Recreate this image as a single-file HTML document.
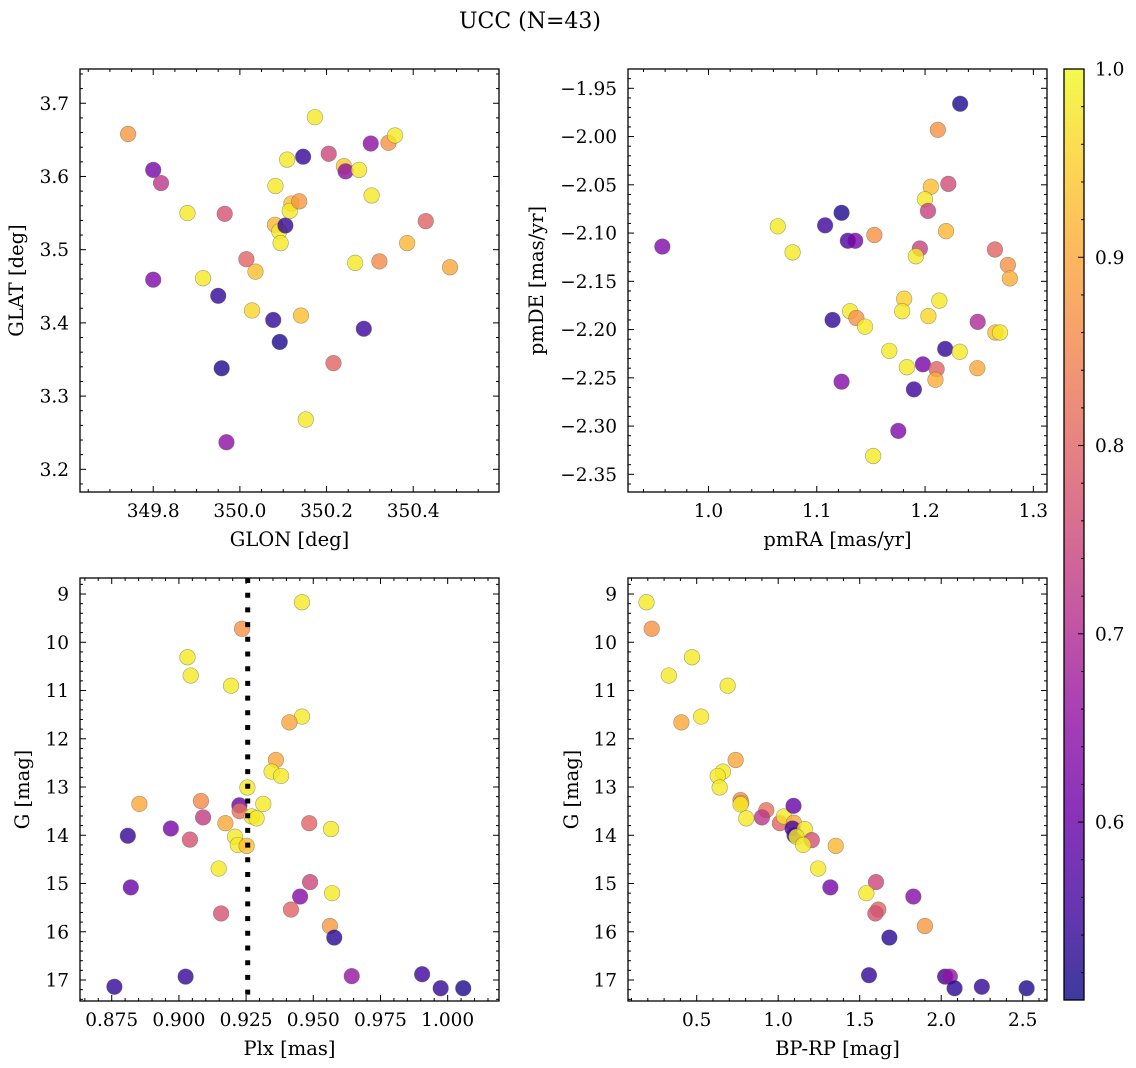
<!DOCTYPE html>
<html><head><meta charset="utf-8"><style>
html,body{margin:0;padding:0;background:#fff;}
svg{display:block;font-family:"DejaVu Serif","Liberation Serif",serif;}
</style></head><body>
<svg id="fig" width="1136" height="1068" viewBox="0 0 1136 1068" xmlns="http://www.w3.org/2000/svg">
<defs>
<linearGradient id="plasmaGrad" x1="0" y1="1" x2="0" y2="0">
<stop offset="0" stop-color="#0d0887"/><stop offset="0.1" stop-color="#41049d"/><stop offset="0.2" stop-color="#6a00a8"/><stop offset="0.3" stop-color="#8f0da4"/><stop offset="0.4" stop-color="#b12a90"/><stop offset="0.5" stop-color="#cc4778"/><stop offset="0.6" stop-color="#e16462"/><stop offset="0.7" stop-color="#f2844b"/><stop offset="0.8" stop-color="#fca636"/><stop offset="0.9" stop-color="#fcce25"/><stop offset="1" stop-color="#f0f921"/>
</linearGradient>
</defs>
<text x="530" y="28" text-anchor="middle" font-size="22">UCC (N=43)</text>
</svg>
<script>
// ---- Panel A: GLON vs GLAT ----
const glon = [349.742,349.800,349.818,349.879,349.965,349.800,349.915,349.950,350.015,350.036,349.958,349.969,350.028,350.077,350.092,350.082,350.081,350.091,350.094,350.105,350.109,350.119,350.115,350.137,350.146,350.173,350.141,350.152,350.205,350.240,350.244,350.275,350.304,350.266,350.216,350.286,350.302,350.343,350.358,350.322,350.386,350.429,350.485];
const glat = [3.658,3.609,3.591,3.550,3.549,3.459,3.461,3.437,3.487,3.470,3.338,3.237,3.417,3.404,3.374,3.587,3.534,3.525,3.509,3.533,3.623,3.563,3.553,3.566,3.627,3.681,3.410,3.268,3.631,3.614,3.607,3.609,3.574,3.482,3.345,3.392,3.645,3.646,3.656,3.484,3.509,3.539,3.476];
const probA = [0.88,0.62,0.72,0.98,0.77,0.63,0.98,0.54,0.80,0.93,0.52,0.65,0.96,0.54,0.52,0.98,0.92,0.98,0.98,0.54,0.98,0.93,0.98,0.88,0.54,0.98,0.93,0.98,0.75,0.94,0.65,0.98,0.98,0.98,0.80,0.55,0.65,0.87,0.98,0.86,0.92,0.80,0.90];
// ---- Panel B: pmRA vs pmDE ----
const pmra = [0.9574,1.2324,1.2118,1.2215,1.2053,1.1999,1.2027,1.0640,1.1077,1.1229,1.1287,1.1355,1.1532,1.2194,1.1952,1.1915,1.0777,1.2645,1.2765,1.2783,1.1807,1.2132,1.1146,1.1308,1.1366,1.1446,1.1789,1.2031,1.2486,1.2649,1.2692,1.1670,1.2186,1.2320,1.1229,1.1832,1.1980,1.2107,1.2096,1.2483,1.1897,1.1753,1.1521];
const pmde = [-2.114,-1.966,-1.993,-2.049,-2.052,-2.065,-2.077,-2.093,-2.092,-2.079,-2.108,-2.108,-2.102,-2.098,-2.116,-2.124,-2.120,-2.117,-2.133,-2.147,-2.168,-2.170,-2.190,-2.181,-2.188,-2.197,-2.181,-2.186,-2.192,-2.203,-2.203,-2.222,-2.220,-2.223,-2.254,-2.239,-2.236,-2.241,-2.252,-2.240,-2.262,-2.305,-2.331];
const probB = [0.63,0.52,0.87,0.76,0.93,0.98,0.74,0.98,0.55,0.52,0.57,0.62,0.87,0.92,0.74,0.98,0.98,0.80,0.87,0.91,0.95,0.98,0.54,0.98,0.87,0.98,0.98,0.96,0.70,0.93,0.98,0.98,0.54,0.98,0.64,0.98,0.62,0.80,0.91,0.90,0.55,0.63,0.98];
// ---- Panel C: Plx vs G ----
const plx = [0.9458,0.9235,0.9032,0.9044,0.9194,0.9458,0.9411,0.9361,0.9345,0.9380,0.9255,0.8853,0.9082,0.9314,0.9225,0.9226,0.9271,0.9289,0.9090,0.9173,0.8970,0.8810,0.9041,0.9209,0.9219,0.9252,0.9485,0.9566,0.9148,0.9488,0.9451,0.8821,0.9570,0.9417,0.9157,0.9562,0.9578,0.9025,0.9643,0.9905,0.8760,0.9974,1.0058];
const gmagC = [9.17,9.72,10.31,10.69,10.90,11.54,11.66,12.44,12.68,12.77,13.01,13.35,13.29,13.35,13.38,13.50,13.61,13.65,13.63,13.75,13.86,14.01,14.09,14.03,14.20,14.22,13.75,13.87,14.69,14.97,15.27,15.08,15.20,15.54,15.62,15.88,16.12,16.93,16.92,16.88,17.14,17.17,17.17];
const probC = [0.98,0.87,0.98,0.98,0.98,0.98,0.90,0.90,0.98,0.98,0.98,0.90,0.86,0.98,0.60,0.82,0.98,0.98,0.73,0.90,0.62,0.54,0.77,0.98,0.98,0.93,0.80,0.98,0.98,0.75,0.64,0.60,0.98,0.80,0.77,0.88,0.53,0.54,0.66,0.55,0.54,0.54,0.52];
const plxLine = [0.9256];
// ---- Panel D: BP-RP vs G ----
const bprp = [0.192,0.224,0.471,0.329,0.690,0.527,0.406,0.739,0.661,0.629,0.641,0.769,0.773,0.769,0.927,0.900,0.804,1.010,1.035,1.094,1.096,1.100,1.088,1.163,1.112,1.206,1.153,1.353,1.245,1.320,1.600,1.541,1.829,1.614,1.596,1.900,1.682,1.557,2.024,2.053,2.082,2.249,2.524];
const gmagD = [9.17,9.72,10.31,10.69,10.90,11.54,11.66,12.44,12.68,12.77,13.01,13.27,13.33,13.36,13.48,13.63,13.65,13.75,13.61,13.39,13.74,14.00,13.86,13.87,14.03,14.10,14.20,14.22,14.69,15.08,14.97,15.20,15.27,15.54,15.62,15.88,16.12,16.90,16.93,16.93,17.17,17.14,17.17];
const probD = [0.98,0.87,0.98,0.98,0.98,0.98,0.90,0.90,0.98,0.98,0.98,0.86,0.90,0.98,0.82,0.72,0.98,0.80,0.98,0.60,0.90,0.54,0.56,0.98,0.98,0.77,0.98,0.92,0.98,0.62,0.75,0.98,0.64,0.80,0.77,0.88,0.53,0.54,0.55,0.66,0.53,0.54,0.52];
// ---- Ticks ----
const ticksAx = [349.8,350.0,350.2,350.4];
const ticksAxLbl = ["349.8","350.0","350.2","350.4"];
const ticksAy = [3.2,3.3,3.4,3.5,3.6,3.7];
const ticksAyLbl = ["3.2","3.3","3.4","3.5","3.6","3.7"];
const ticksBx = [1.0,1.1,1.2,1.3];
const ticksBxLbl = ["1.0","1.1","1.2","1.3"];
const ticksBy = [-1.95,-2.00,-2.05,-2.10,-2.15,-2.20,-2.25,-2.30,-2.35];
const ticksByLbl = ["\u22121.95","\u22122.00","\u22122.05","\u22122.10","\u22122.15","\u22122.20","\u22122.25","\u22122.30","\u22122.35"];
const ticksCx = [0.875,0.900,0.925,0.950,0.975,1.000];
const ticksCxLbl = ["0.875","0.900","0.925","0.950","0.975","1.000"];
const ticksG = [9,10,11,12,13,14,15,16,17];
const ticksGLbl = ["9","10","11","12","13","14","15","16","17"];
const ticksDx = [0.5,1.0,1.5,2.0,2.5];
const ticksDxLbl = ["0.5","1.0","1.5","2.0","2.5"];
const cbTicks = [0.6,0.7,0.8,0.9,1.0];
const cbTickLbl = ["0.6","0.7","0.8","0.9","1.0"];
const cbRange = [0.5055,1.0];

const NS = "http://www.w3.org/2000/svg";
const svg = document.getElementById('fig');
function mk(tag, attrs, parent){
  const e = document.createElementNS(NS, tag);
  for (const k in attrs) e.setAttribute(k, attrs[k]);
  (parent||svg).appendChild(e);
  return e;
}
const stops = [[13,8,135],[65,4,157],[106,0,168],[143,13,164],[177,42,144],[204,71,120],[225,100,98],[242,132,75],[252,166,54],[252,206,37],[240,249,33]];
function plasma(t){
  t = Math.max(0, Math.min(1, t));
  const f = t*10, i = Math.min(9, Math.floor(f)), r = f - i;
  const a = stops[i], b = stops[i+1];
  return 'rgb(' + [0,1,2].map(k => Math.round(a[k] + (b[k]-a[k])*r)).join(',') + ')';
}
function cnorm(p){ return (p - cbRange[0])/(cbRange[1]-cbRange[0]); }

function makeAxes(c){
  const g = mk('g', {});
  
  
  const sx = v => c.x0 + (v - c.xl)/(c.xr - c.xl)*(c.x1 - c.x0);
  const sy = v => c.y0 + (v - c.yt)/(c.yb - c.yt)*(c.y1 - c.y0);
  c.sx = sx; c.sy = sy; c.g = g;
  return c;
}
function decorate(c){
  const g = c.g, sx = c.sx, sy = c.sy;
  const tg = mk('g', {stroke:'#000','stroke-width':1}, g);
  
  
  function line(x1,y1,x2,y2){ mk('line',{x1:x1,y1:y1,x2:x2,y2:y2},tg); }
  const xlo = Math.min(c.xl,c.xr), xhi = Math.max(c.xl,c.xr);
  const ylo = Math.min(c.yt,c.yb), yhi = Math.max(c.yt,c.yb);
  for (let k = Math.ceil(xlo/c.xm - 1e-6); k*c.xm <= xhi + 1e-9; k++){
    const v = k*c.xm, x = sx(v);
    const major = c.xt.some(t => Math.abs(t - v) < c.xm*0.01);
    const L = major ? 6 : 3;
    line(x, c.y1, x, c.y1 - L); line(x, c.y0, x, c.y0 + L);
  }
  for (let k = Math.ceil(ylo/c.ym - 1e-6); k*c.ym <= yhi + 1e-9; k++){
    const v = k*c.ym, y = sy(v);
    const major = c.yt2.some(t => Math.abs(t - v) < c.ym*0.01);
    const L = major ? 6 : 3;
    line(c.x0, y, c.x0 + L, y); line(c.x1, y, c.x1 - L, y);
  }
  c.xt.forEach((t,i) => {
    const e = mk('text', {x: sx(t), y: c.y1 + 25, 'text-anchor':'middle','font-size':18.5}, g);
    
    
    e.textContent = c.xtl[i];
  });
  c.yt2.forEach((t,i) => {
    const e = mk('text', {x: c.x0 - 11, y: sy(t) + 6.5, 'text-anchor':'end','font-size':18.5}, g);
    
    
    e.textContent = c.ytl[i];
  });
  const xl = mk('text', {x:(c.x0+c.x1)/2, y:c.y1 + 54, 'text-anchor':'middle','font-size':19.5}, g);
  
  
  xl.textContent = c.xlabel;
  const cy = (c.y0+c.y1)/2;
  const yl = mk('text', {x:c.ylx, y:cy, 'text-anchor':'middle','font-size':19.5, transform:'rotate(-90 '+c.ylx+' '+cy+')'}, g);
  
  
  yl.textContent = c.ylabel;
  const box = mk('rect', {x:c.x0, y:c.y0, width:c.x1-c.x0, height:c.y1-c.y0, fill:'none', stroke:'#000','stroke-width':1.3}, g);
  
  
}
function scatter(c, xs, ys, ps){
  const pg = mk('g', {}, c.g);
  
  
  for (let i = 0; i < xs.length; i++){
    const p = mk('circle', {cx:c.sx(xs[i]), cy:c.sy(ys[i]), r:7.8, fill:plasma(cnorm(ps[i])), 'fill-opacity':0.8, stroke:'rgba(90,90,90,0.55)', 'stroke-width':0.6}, pg);
    
    
  }
}

const A = makeAxes({name:'glon-glat-panel', x0:80,x1:499,y0:69,y1:492, xl:349.631,xr:350.598, yt:3.7468,yb:3.169,
  xt:ticksAx, xtl:ticksAxLbl, xm:0.05, yt2:ticksAy, ytl:ticksAyLbl, ym:0.02, xlabel:'GLON [deg]', ylabel:'GLAT [deg]', ylx:23});
scatter(A, glon, glat, probA); decorate(A);

const B = makeAxes({name:'pm-panel', x0:628,x1:1047,y0:69,y1:492, xl:0.9257,xr:1.3126, yt:-1.93,yb:-2.3683,
  xt:ticksBx, xtl:ticksBxLbl, xm:0.02, yt2:ticksBy, ytl:ticksByLbl, ym:0.01, xlabel:'pmRA [mas/yr]', ylabel:'pmDE [mas/yr]', ylx:543});
scatter(B, pmra, pmde, probB); decorate(B);

const C = makeAxes({name:'plx-g-panel', x0:80,x1:499,y0:578,y1:1001, xl:0.8632,xr:1.0191, yt:8.668,yb:17.435,
  xt:ticksCx, xtl:ticksCxLbl, xm:0.005, yt2:ticksG, ytl:ticksGLbl, ym:0.2, xlabel:'Plx [mas]', ylabel:'G [mag]', ylx:29});
scatter(C, plx, gmagC, probC);
plxLine.forEach(v => {
  const l = mk('line', {x1:C.sx(v), x2:C.sx(v), y1:C.y0, y2:C.y1, stroke:'#000','stroke-width':5,'stroke-dasharray':'5 9.7'}, C.g);
  
  
});
decorate(C);

const D = makeAxes({name:'cmd-panel', x0:628,x1:1047,y0:578,y1:1001, xl:0.0785,xr:2.649, yt:8.668,yb:17.435,
  xt:ticksDx, xtl:ticksDxLbl, xm:0.1, yt2:ticksG, ytl:ticksGLbl, ym:0.2, xlabel:'BP-RP [mag]', ylabel:'G [mag]', ylx:578});
scatter(D, bprp, gmagD, probD); decorate(D);

// ---- Colorbar ----
const cb = mk('g', {});


const cbx0 = 1064, cbx1 = 1084, cby0 = 69, cby1 = 1000;
const cy = v => cby1 - (v - cbRange[0])/(cbRange[1]-cbRange[0])*(cby1-cby0);
mk('rect', {x:cbx0, y:cby0, width:cbx1-cbx0, height:cby1-cby0, fill:'url(#plasmaGrad)', 'fill-opacity':0.8}, cb);
for (let k = 26; k <= 50; k++){
  const v = k*0.02;
  if (v < cbRange[0] - 1e-9 || v > cbRange[1] + 1e-9) continue;
  const major = cbTicks.some(t => Math.abs(t - v) < 1e-6);
  const L = major ? 6 : 3;
  mk('line', {x1:cbx1, x2:cbx1 - L, y1:cy(v), y2:cy(v), stroke:'#000','stroke-width':1}, cb);
}
cbTicks.forEach((t,i) => {
  const e = mk('text', {x:cbx1 + 11, y:cy(t) + 6.5, 'font-size':18.5}, cb);
  
  
  e.textContent = cbTickLbl[i];
});
mk('rect', {x:cbx0, y:cby0, width:cbx1-cbx0, height:cby1-cby0, fill:'none', stroke:'#000','stroke-width':1.3}, cb);
</script>
</body></html>
